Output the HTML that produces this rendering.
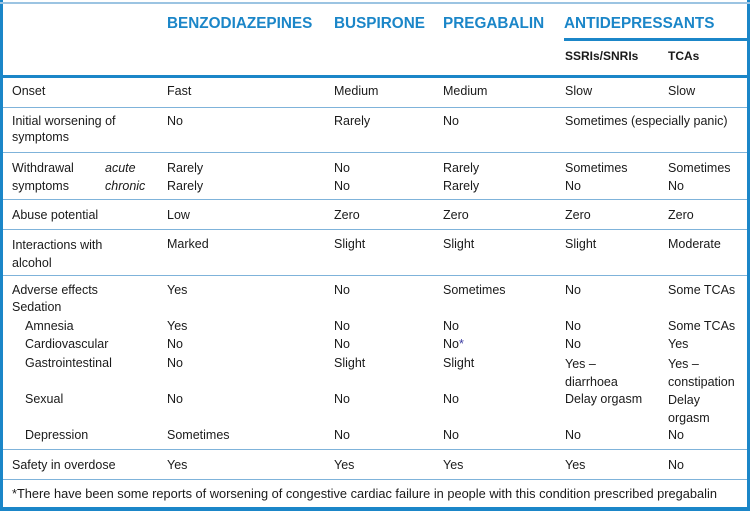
<!DOCTYPE html>
<html><head><meta charset="utf-8"><style>
body{margin:0;background:#fff}
#c{position:relative;width:750px;height:511px;overflow:hidden;font-family:"Liberation Sans",sans-serif;font-size:12.5px;color:#1a1a1a}
#c div{position:absolute;white-space:nowrap;line-height:16px}
.h{color:#1b86c8;font-weight:bold;font-size:15.3px}
.s{font-weight:bold;font-size:12px}
.l{height:1px;background:#7fb3da;left:3px;width:744px}
i{font-style:italic}
</style></head><body><div id="c">
<div style="left:0;top:0;width:3px;height:511px;background:#1b86c8"></div>
<div style="left:747px;top:0;width:3px;height:511px;background:#1b86c8"></div>
<div style="left:0;top:2px;width:750px;height:2px;background:#9cc4e2"></div>
<div style="left:0;top:507px;width:750px;height:4px;background:#1b86c8"></div>
<div style="left:0;top:75px;width:750px;height:3px;background:#1b86c8"></div>
<div style="left:564px;top:38px;width:186px;height:3px;background:#1b86c8"></div>
<div class="l" style="top:107px"></div>
<div class="l" style="top:152px"></div>
<div class="l" style="top:199px"></div>
<div class="l" style="top:229px"></div>
<div class="l" style="top:275px"></div>
<div class="l" style="top:449px"></div>
<div class="l" style="top:479px"></div>

<div class="h" style="left:167px;top:16px">BENZODIAZEPINES</div>
<div class="h" style="left:334px;top:16px">BUSPIRONE</div>
<div class="h" style="left:443px;top:16px">PREGABALIN</div>
<div class="h" style="left:564px;top:16px">ANTIDEPRESSANTS</div>
<div class="s" style="left:565px;top:48px">SSRIs/SNRIs</div>
<div class="s" style="left:668px;top:48px">TCAs</div>

<div style="left:12px;top:83px">Onset</div><div style="left:167px;top:83px">Fast</div><div style="left:334px;top:83px">Medium</div><div style="left:443px;top:83px">Medium</div><div style="left:565px;top:83px">Slow</div><div style="left:668px;top:83px">Slow</div>

<div style="left:12px;top:113px">Initial worsening of<br>symptoms</div><div style="left:167px;top:113px">No</div><div style="left:334px;top:113px">Rarely</div><div style="left:443px;top:113px">No</div><div style="left:565px;top:113px">Sometimes (especially panic)</div>

<div style="left:12px;top:159px;line-height:18px">Withdrawal<br>symptoms</div><div style="left:105px;top:159px;line-height:18px"><i>acute</i><br><i>chronic</i></div>
<div style="left:167px;top:159px;line-height:18px">Rarely<br>Rarely</div><div style="left:334px;top:159px;line-height:18px">No<br>No</div><div style="left:443px;top:159px;line-height:18px">Rarely<br>Rarely</div><div style="left:565px;top:159px;line-height:18px">Sometimes<br>No</div><div style="left:668px;top:159px;line-height:18px">Sometimes<br>No</div>

<div style="left:12px;top:207px">Abuse potential</div><div style="left:167px;top:207px">Low</div><div style="left:334px;top:207px">Zero</div><div style="left:443px;top:207px">Zero</div><div style="left:565px;top:207px">Zero</div><div style="left:668px;top:207px">Zero</div>

<div style="left:12px;top:236px;line-height:18px">Interactions with<br>alcohol</div><div style="left:167px;top:236px">Marked</div><div style="left:334px;top:236px">Slight</div><div style="left:443px;top:236px">Slight</div><div style="left:565px;top:236px">Slight</div><div style="left:668px;top:236px">Moderate</div>

<div style="left:12px;top:282px;line-height:17px">Adverse effects<br>Sedation</div><div style="left:167px;top:282px">Yes</div><div style="left:334px;top:282px">No</div><div style="left:443px;top:282px">Sometimes</div><div style="left:565px;top:282px">No</div><div style="left:668px;top:282px">Some TCAs</div>

<div style="left:25px;top:318px">Amnesia</div><div style="left:167px;top:318px">Yes</div><div style="left:334px;top:318px">No</div><div style="left:443px;top:318px">No</div><div style="left:565px;top:318px">No</div><div style="left:668px;top:318px">Some TCAs</div>
<div style="left:25px;top:336px">Cardiovascular</div><div style="left:167px;top:336px">No</div><div style="left:334px;top:336px">No</div><div style="left:443px;top:336px">No<span style="color:#3a3aa0">*</span></div><div style="left:565px;top:336px">No</div><div style="left:668px;top:336px">Yes</div>
<div style="left:25px;top:355px">Gastrointestinal</div><div style="left:167px;top:355px">No</div><div style="left:334px;top:355px">Slight</div><div style="left:443px;top:355px">Slight</div><div style="left:565px;top:355px;line-height:18px">Yes –<br>diarrhoea</div><div style="left:668px;top:355px;line-height:18px">Yes –<br>constipation</div>
<div style="left:25px;top:391px">Sexual</div><div style="left:167px;top:391px">No</div><div style="left:334px;top:391px">No</div><div style="left:443px;top:391px">No</div><div style="left:565px;top:391px">Delay orgasm</div><div style="left:668px;top:391px;line-height:18px">Delay<br>orgasm</div>
<div style="left:25px;top:427px">Depression</div><div style="left:167px;top:427px">Sometimes</div><div style="left:334px;top:427px">No</div><div style="left:443px;top:427px">No</div><div style="left:565px;top:427px">No</div><div style="left:668px;top:427px">No</div>

<div style="left:12px;top:457px">Safety in overdose</div><div style="left:167px;top:457px">Yes</div><div style="left:334px;top:457px">Yes</div><div style="left:443px;top:457px">Yes</div><div style="left:565px;top:457px">Yes</div><div style="left:668px;top:457px">No</div>

<div style="left:12px;top:486px;font-size:12.8px">*There have been some reports of worsening of congestive cardiac failure in people with this condition prescribed pregabalin</div>
</div></body></html>
